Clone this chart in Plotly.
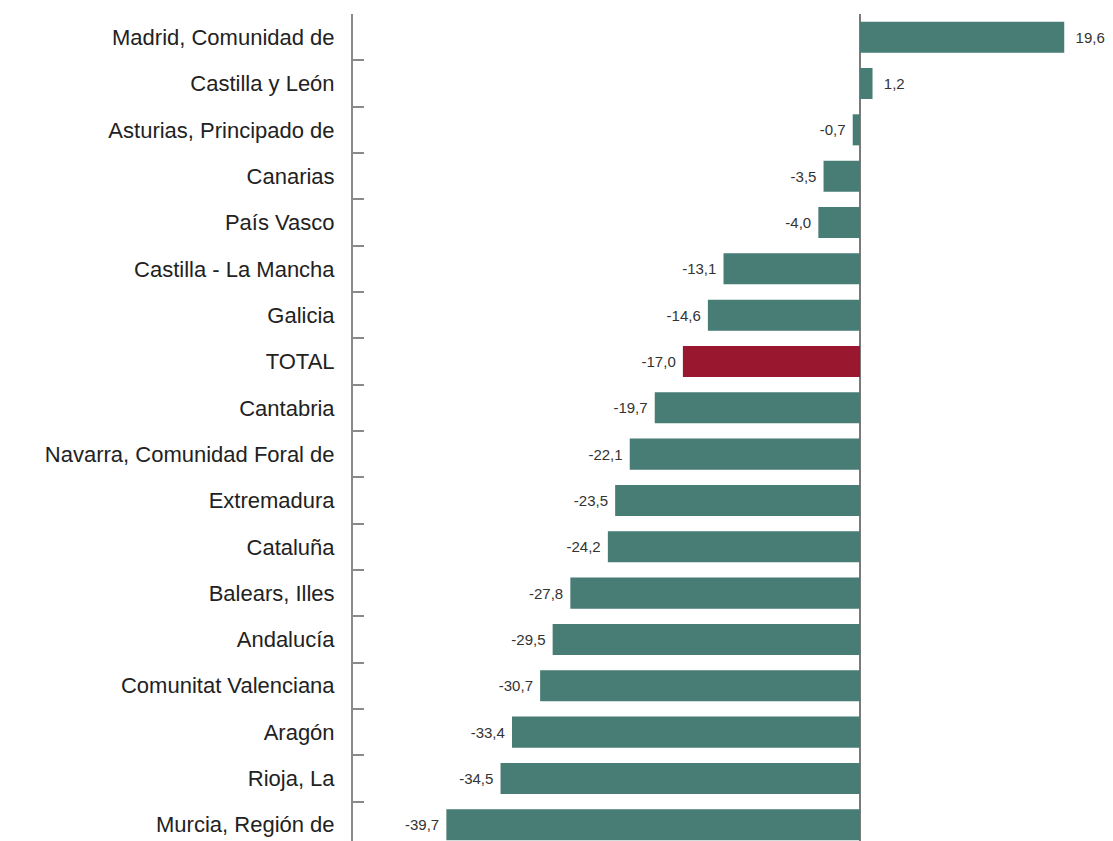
import plotly.graph_objects as go

categories = [
    "Madrid, Comunidad de", "Castilla y León", "Asturias, Principado de", "Canarias",
    "País Vasco", "Castilla - La Mancha", "Galicia", "TOTAL", "Cantabria",
    "Navarra, Comunidad Foral de", "Extremadura", "Cataluña", "Balears, Illes",
    "Andalucía", "Comunitat Valenciana", "Aragón", "Rioja, La", "Murcia, Región de",
]
values = [19.6, 1.2, -0.7, -3.5, -4.0, -13.1, -14.6, -17.0, -19.7,
          -22.1, -23.5, -24.2, -27.8, -29.5, -30.7, -33.4, -34.5, -39.7]

NB = "\u00a0"
labels = [
    (NB * 2 + f"{v:.1f}".replace(".", ",")) if v >= 0 else (f"{v:.1f}".replace(".", ",") + NB)
    for v in values
]

TEAL = "#477d74"
RED = "#9a1730"
colors = [RED if c == "TOTAL" else TEAL for c in categories]

fig = go.Figure(go.Bar(
    x=values, y=categories, orientation="h",
    marker=dict(color=colors, line=dict(width=0)),
    text=labels, textposition="outside", cliponaxis=False, constraintext="none",
    textfont=dict(family="Liberation Sans, Arial, sans-serif", size=15, color="#333333"),
    hoverinfo="skip",
))

fig.update_layout(
    width=1105, height=833,
    margin=dict(l=345, r=0, t=6, b=0),
    paper_bgcolor="white", plot_bgcolor="white",
    bargap=0.33, showlegend=False,
    font=dict(family="Liberation Sans, Arial, sans-serif", color="#222222"),
)
fig.update_xaxes(
    range=[-48.66, 24.28], showgrid=False, showticklabels=False, ticks="",
    zeroline=True, zerolinecolor="#7a7a7a", zerolinewidth=2, showline=False,
)
fig.update_yaxes(
    type="category", categoryorder="array", categoryarray=categories,
    range=[17.35, -0.5], showgrid=False, zeroline=False,
    showline=True, linecolor="#8a8a8a", linewidth=2,
    ticks="inside", tickson="boundaries", ticklen=11, tickcolor="#8a8a8a", tickwidth=1.5,
    tickfont=dict(size=22, color="#222222"), ticklabelstandoff=12,
)

fig.write_html("out.html")
